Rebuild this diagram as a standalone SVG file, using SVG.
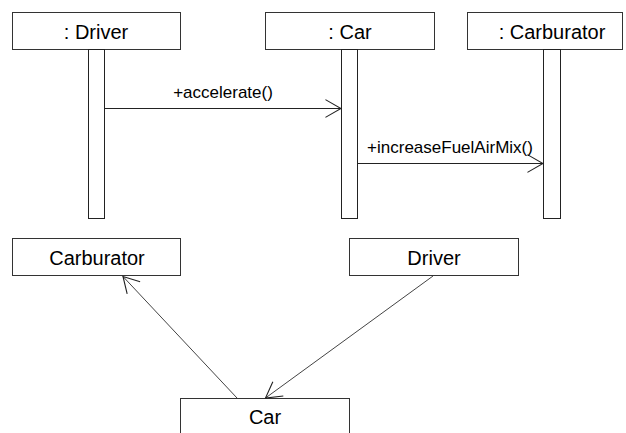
<svg xmlns="http://www.w3.org/2000/svg" width="626" height="433" viewBox="0 0 626 433">
<style>
.box{fill:#fff;stroke:#333;stroke-width:1}
.bar{fill:#fff;stroke:#222;stroke-width:1}
.lbl{font-family:"Liberation Sans",Arial,sans-serif;font-size:20px;fill:#000;text-anchor:middle}
.msg{font-family:"Liberation Sans",Arial,sans-serif;font-size:17px;fill:#000;text-anchor:middle}
.conn{fill:none;stroke:#222;stroke-width:1}
.assoc{fill:none;stroke:#444;stroke-width:1}
</style>
<defs>
<marker id="open" markerUnits="userSpaceOnUse" markerWidth="18" markerHeight="20" viewBox="0 0 16 18" refX="15" refY="9" orient="auto">
<path d="M1,1 L15,9 L1,17" fill="none" stroke="#222" stroke-width="1"/>
</marker>
</defs>
<rect width="626" height="433" fill="#fff"/>
<g id="driver-lifeline">
<rect class="box" x="12.5" y="12.5" width="168" height="37"/>
<text class="lbl" x="96" y="39">: Driver</text>
<rect class="bar" x="88.5" y="49.5" width="16" height="169"/>
</g>
<g id="car-lifeline">
<rect class="box" x="265.5" y="12.5" width="169" height="37"/>
<text class="lbl" x="350" y="39">: Car</text>
<rect class="bar" x="341.5" y="49.5" width="16" height="169"/>
</g>
<g id="carburator-lifeline">
<rect class="box" x="467.5" y="12.5" width="155" height="37"/>
<text class="lbl" x="552" y="39">: Carburator</text>
<rect class="bar" x="543.5" y="49.5" width="17" height="169"/>
</g>
<g id="carburator-class">
<rect class="box" x="12.5" y="238.5" width="168" height="37"/>
<text class="lbl" x="97" y="265">Carburator</text>
</g>
<g id="driver-class">
<rect class="box" x="349.5" y="238.5" width="169" height="37"/>
<text class="lbl" x="434" y="265">Driver</text>
</g>
<g id="car-class">
<rect class="box" x="180.5" y="398.5" width="169" height="40"/>
<text class="lbl" x="265" y="424">Car</text>
</g>
<g id="connectors">
<line class="conn" x1="104.5" y1="108.5" x2="341" y2="108.5" marker-end="url(#open)"/>
<text class="msg" x="223" y="98">+accelerate()</text>
<line class="conn" x1="357.5" y1="163.5" x2="543" y2="163.5" marker-end="url(#open)"/>
<text class="msg" x="450" y="153">+increaseFuelAirMix()</text>
<line class="assoc" x1="237" y1="398" x2="123" y2="276.5" marker-end="url(#open)"/>
<line class="assoc" x1="433" y1="276" x2="265.5" y2="398" marker-end="url(#open)"/>
</g>
</svg>
